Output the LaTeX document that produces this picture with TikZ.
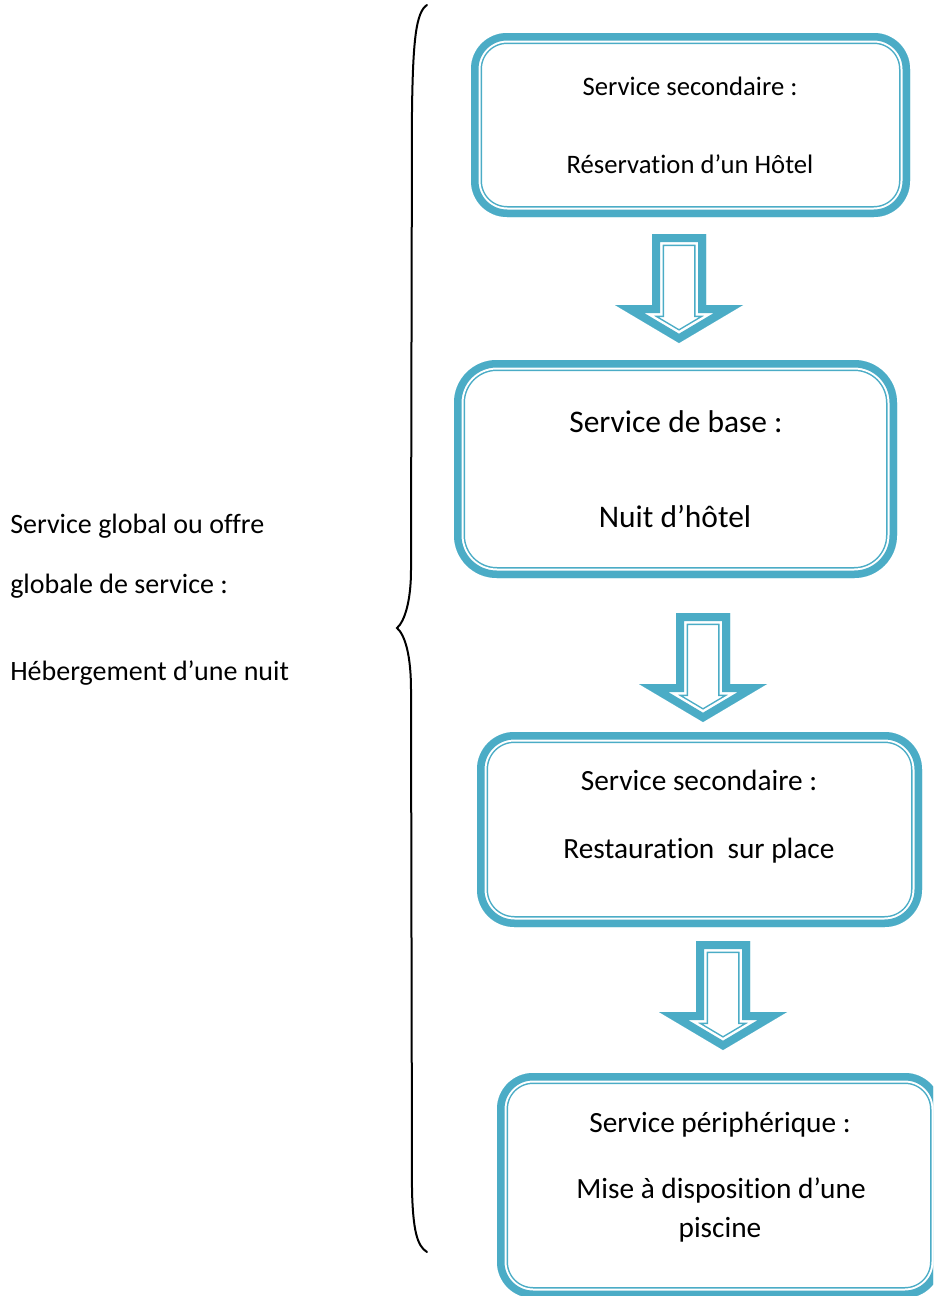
\documentclass[tikz,border=0pt]{standalone}
\usepackage{fontspec}
\setmainfont{Carlito}[Ligatures={NoCommon,NoContextual}]
\usetikzlibrary{fit}
\definecolor{aqua}{HTML}{4BACC6}

% thick-thin aqua frame drawn inside a rounded box node
\newcommand\DoubleFrame[2]{%
  \begin{scope}
    \clip[rounded corners=#2] (#1.north west) rectangle (#1.south east);
    \foreach \lw/\lc in {16.5pt/aqua, 14.25pt/white, 11.25pt/aqua}
      \draw[\lc, line width=\lw, rounded corners=#2] (#1.north west) rectangle (#1.south east);
  \end{scope}}

% hollow block arrow pointing down, top centre at #1
\newcommand\DownArrow[1]{%
  \begin{scope}[shift={(#1)}]
    \clip (-27,0) -- (27,0) -- (27,71) -- (64,71) -- (0,109) -- (-64,71) -- (-27,71) -- cycle;
    \foreach \lw/\lc in {18pt/aqua, 15.75pt/white, 12pt/aqua}
      \draw[\lc, line width=\lw] (-27,0) -- (27,0) -- (27,71) -- (64,71) -- (0,109) -- (-64,71) -- (-27,71) -- cycle;
  \end{scope}}

\tikzset{
  boxarea/.style={inner sep=0pt, outer sep=0pt},
  lbl/.style={anchor=base, inner sep=0pt},
  lbll/.style={anchor=base west, inner sep=0pt},
}

\begin{document}
\begin{tikzpicture}[x=0.75pt, y=-0.75pt]
  \useasboundingbox (0,0) rectangle (933,1296);
  \clip (0,0) rectangle (933,1296);

  % box areas
  \node[boxarea, fit={(471,33) (910,217)}] (b1) {};
  \node[boxarea, fit={(454,360) (897,578)}] (b2) {};
  \node[boxarea, fit={(477,732) (922,927)}] (b3) {};
  \node[boxarea, fit={(497,1073) (941,1298)}] (b4) {};

  \DoubleFrame{b1}{27pt}
  \DoubleFrame{b2}{32pt}
  \DoubleFrame{b3}{28pt}
  \DoubleFrame{b4}{27pt}

  % arrows between the boxes
  \coordinate (a1) at (679,234);
  \coordinate (a2) at (703,613);
  \coordinate (a3) at (723,941);
  \DownArrow{a1}
  \DownArrow{a2}
  \DownArrow{a3}

  % box texts
  \node[lbl, font=\fontsize{20}{24}\selectfont] (t1a) at (690,95) {Service secondaire :};
  \node[lbl, font=\fontsize{20}{24}\selectfont] (t1b) at (690,173) {Réservation d’un Hôtel};

  \node[lbl, font=\fontsize{23.6}{28}\selectfont] (t2a) at (676,432) {Service de base :};
  \node[lbl, font=\fontsize{23.6}{28}\selectfont] (t2b) at (675,527) {Nuit d’hôtel};

  \node[lbl, font=\fontsize{22}{26}\selectfont] (t3a) at (699,790) {Service secondaire :};
  \node[lbl, font=\fontsize{22}{26}\selectfont] (t3b) at (699,858) {Restauration~ sur place};

  \node[lbl, font=\fontsize{22}{26}\selectfont] (t4a) at (720,1132) {Service périphérique :};
  \node[lbl, font=\fontsize{22}{26}\selectfont] (t4b) at (721,1198) {Mise à disposition d’une};
  \node[lbl, font=\fontsize{22}{26}\selectfont] (t4c) at (720,1237) {piscine};

  % left text
  \node[lbll, font=\fontsize{21}{25}\selectfont] (g1) at (10,533) {Service global ou offre};
  \node[lbll, font=\fontsize{21}{25}\selectfont] (g2) at (10,593) {globale de service :};
  \node[lbll, font=\fontsize{21}{25}\selectfont] (g3) at (10,680) {Hébergement d’une nuit};

  % curly brace
  \draw[line width=1.5pt, line cap=round]
    (427,5) .. controls (416,12) and (413,40) .. (412,110)
    -- (411,570) .. controls (411,600) and (405,621) .. (397,628)
    .. controls (405,635) and (411,655) .. (411,690)
    -- (412,1190) .. controls (413,1230) and (417,1246) .. (427,1252);
\end{tikzpicture}
\end{document}
